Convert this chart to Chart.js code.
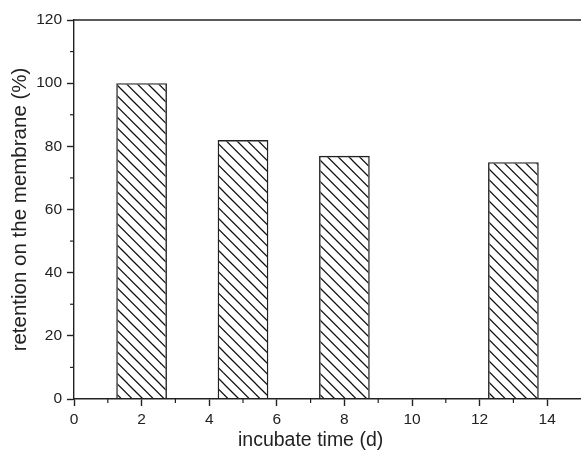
<!DOCTYPE html>
<html>
<head>
<meta charset="utf-8">
<script src="https://cdn.jsdelivr.net/npm/chart.js@4"></script>
<style>
  html, body { margin: 0; padding: 0; background: #fff; }
  .wrap { width: 581px; height: 451px; position: relative; }
</style>
</head>
<body>
<div class="wrap"><canvas id="chart"></canvas></div>
<script>
// incubate time (days) and retention (%)
const days = [2, 5, 8, 13]
const retention = [100, 82, 77, 75]
const xTicks = [0, 2, 4, 6, 8, 10, 12, 14]
const xMinor = [1, 3, 5, 7, 9, 11, 13]
const yMinor = [10, 30, 50, 70, 90, 110]

const ink = '#222'
const font = '"Liberation Sans", Arial, sans-serif'

// hatch "\\\\" pattern
function hatch() {
  const c = document.createElement('canvas')
  c.width = 32
  c.height = 32
  const g = c.getContext('2d')
  g.strokeStyle = '#111'
  g.lineWidth = 1.25
  const step = 32 / 3
  for (let k = -6; k <= 6; k++) {
    const off = k * step
    g.beginPath()
    g.moveTo(off - 2, -2)
    g.lineTo(off + 34, 34)
    g.stroke()
  }
  return g.createPattern(c, 'repeat')
}

const extras = {
  id: 'extras',
  afterDraw(chart) {
    const { ctx, chartArea, scales } = chart
    const x = scales.x, y = scales.y
    ctx.save()
    ctx.strokeStyle = ink
    ctx.lineWidth = 1.4
    // top frame line
    ctx.beginPath()
    ctx.moveTo(chartArea.left, chartArea.top)
    ctx.lineTo(chartArea.right, chartArea.top)
    ctx.stroke()
    // minor ticks
    ctx.lineWidth = 1.2
    xMinor.forEach(v => {
      const px = x.getPixelForValue(v)
      ctx.beginPath()
      ctx.moveTo(px, chartArea.bottom)
      ctx.lineTo(px, chartArea.bottom + 4)
      ctx.stroke()
    })
    yMinor.forEach(v => {
      const py = y.getPixelForValue(v)
      ctx.beginPath()
      ctx.moveTo(chartArea.left, py)
      ctx.lineTo(chartArea.left - 4, py)
      ctx.stroke()
    })
    // x title, centred on the labelled range
    ctx.fillStyle = ink
    ctx.font = '19.5px ' + font
    ctx.textAlign = 'center'
    ctx.textBaseline = 'middle'
    ctx.fillText('incubate time (d)', x.getPixelForValue(7), chart.height - 10)
    ctx.restore()
  }
}

const chart = new Chart(document.getElementById('chart'), {
  type: 'bar',
  data: {
    datasets: [{
      data: days.map((d, i) => ({ x: d, y: retention[i] })),
      backgroundColor: hatch(),
      borderColor: ink,
      borderWidth: 1.4,
      borderSkipped: 'bottom',
      categoryPercentage: 1,
      barPercentage: 0.75
    }]
  },
  plugins: [extras],
  options: {
    responsive: true,
    maintainAspectRatio: false,
    animation: false,
    devicePixelRatio: 1,
    layout: { padding: { top: 20, right: 0, bottom: 0, left: 0 } },
    plugins: { legend: { display: false }, tooltip: { enabled: false } },
    scales: {
      x: {
        type: 'linear',
        min: 0,
        max: 15,
        offset: false,
        afterFit: s => { s.height = 52 },
        afterBuildTicks: s => { s.ticks = xTicks.map(v => ({ value: v })) },
        ticks: {
          color: ink,
          font: { family: font, size: 15.5 },
          padding: 4,
          maxRotation: 0
        },
        grid: {
          offset: false,
          drawOnChartArea: false,
          tickLength: 7,
          tickColor: ink,
          tickWidth: 1.4
        },
        border: { color: ink, width: 1.4 }
      },
      y: {
        min: 0,
        max: 120,
        afterFit: s => { s.width = 74 },
        ticks: {
          stepSize: 20,
          color: ink,
          font: { family: font, size: 15.5 },
          padding: 5
        },
        grid: {
          drawOnChartArea: false,
          tickLength: 7,
          tickColor: ink,
          tickWidth: 1.4
        },
        border: { color: ink, width: 1.4 },
        title: {
          display: true,
          text: 'retention on the membrane (%)',
          color: ink,
          font: { family: font, size: 20.5 },
          padding: { top: 8, bottom: 0 }
        }
      }
    }
  }
})
</script>
</body>
</html>
